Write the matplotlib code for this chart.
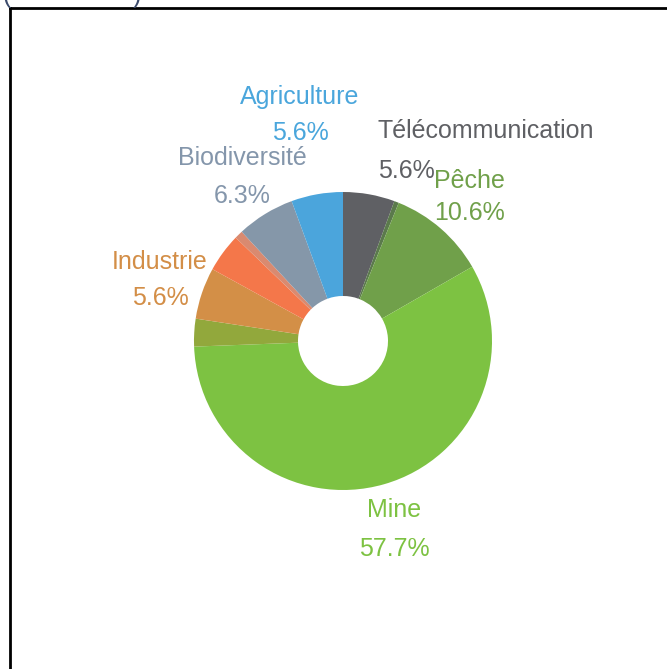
import matplotlib.pyplot as plt
from matplotlib.lines import Line2D

# Sector shares in %, clockwise from 12 o'clock
sectors = ['Télécommunication', 'Autre 1', 'Pêche', 'Mine', 'Autre 2',
           'Industrie', 'Autre 3', 'Autre 4', 'Biodiversité', 'Agriculture']
shares = [5.6, 0.5, 10.6, 57.7, 3.0, 5.6, 4.2, 0.9, 6.3, 5.6]
colors = ['#5f6064', '#5b7a4c', '#70a04a', '#7dc242', '#92a83c',
          '#d38f47', '#f4774a', '#d98a70', '#8597a9', '#4ba5dc']

# labelled sectors: (name, share text, colour)
labels = ['Agriculture', 'Télécommunication', 'Pêche', 'Biodiversité', 'Industrie', 'Mine']
label_pct = ['5.6%', '5.6%', '10.6%', '6.3%', '5.6%', '57.7%']
label_colors = ['#4aa6dc', '#5f6064', '#70a04a', '#8496ab', '#d38e47', '#7dc242']

W, H = 667, 669
plt.rcParams['font.family'] = ['Liberation Sans', 'DejaVu Sans']
fig = plt.figure(figsize=(W / 100, H / 100), dpi=100)
ax = fig.add_axes([0, 0, 1, 1])

ax.pie(shares, colors=colors, startangle=90, counterclock=False,
       center=(343, H - 341), radius=149,
       wedgeprops=dict(width=104, linewidth=0))
ax.set_xlim(0, W)
ax.set_ylim(0, H)
ax.axis('off')

# label positions in pixels (x, y of name line, y of percent line, ha)
pos = [(300, 97, 133, 'center'),
       (378, 131, 171, 'left'),
       (434, 181, 213, 'left'),
       (242, 158, 196, 'center'),
       (160, 262, 298, 'center'),
       (394, 510, 549, 'center')]
for (x, y1, y2, ha), name, pct, c in zip(pos, labels, label_pct, label_colors):
    ax.text(x, H - y1, name, color=c, fontsize=18, ha=ha, va='center')
    if name == 'Pêche':
        ax.text(470, H - y2, pct, color=c, fontsize=18, ha='center', va='center')
    else:
        ax.text(x, H - y2, pct, color=c, fontsize=18, ha=ha, va='center')

# frame cropped at right and bottom
fig.add_artist(Line2D([10 / W, 10 / W], [0, 1 - 8 / H], color='black', lw=2))
fig.add_artist(Line2D([10 / W, 1], [1 - 8 / H, 1 - 8 / H], color='black', lw=2))

# cut-off title parentheses at the top
fig.text(3 / W, 1 + 4 / H, '(', color='#3b4a6b', fontsize=18, va='center')
fig.text(133 / W, 1 + 4 / H, ')', color='#3b4a6b', fontsize=18, va='center')

fig.savefig('out.png', dpi=100, facecolor='white')
